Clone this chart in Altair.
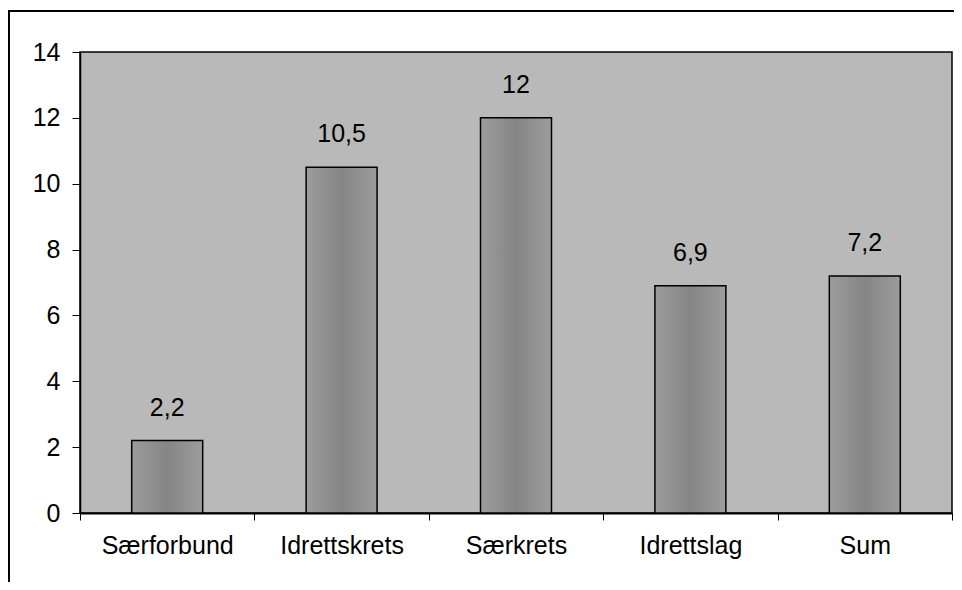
import altair as alt
import pandas as pd

categories = ["Særforbund", "Idrettskrets", "Særkrets", "Idrettslag", "Sum"]
values = [2.2, 10.5, 12, 6.9, 7.2]
value_labels = ["2,2", "10,5", "12", "6,9", "7,2"]
y_ticks = [0, 2, 4, 6, 8, 10, 12, 14]

df = pd.DataFrame({"cat": categories, "val": values, "lab": value_labels})

FONT = "Liberation Sans"
FS = 25

x_enc = alt.X(
    "cat:N",
    sort=categories,
    title=None,
    scale=alt.Scale(paddingInner=0, paddingOuter=0),
    axis=alt.Axis(
        tickBand="extent",
        labelAngle=0,
        labelFont=FONT,
        labelFontSize=FS,
        labelColor="black",
        labelPadding=13,
        tickSize=7,
        tickColor="black",
        domainColor="black",
        domainWidth=2,
        grid=False,
    ),
)
y_enc = alt.Y(
    "val:Q",
    title=None,
    scale=alt.Scale(domain=[0, 14], nice=False),
    axis=alt.Axis(
        values=y_ticks,
        labelFont=FONT,
        labelFontSize=FS,
        labelColor="black",
        labelPadding=12,
        tickSize=8,
        tickColor="black",
        domainColor="black",
        domainWidth=1.5,
        grid=False,
    ),
)

grad = alt.Gradient(
    gradient="linear",
    x1=0, y1=0, x2=1, y2=0,
    stops=[
        alt.GradientStop(offset=0, color="#9c9c9c"),
        alt.GradientStop(offset=0.5, color="#858585"),
        alt.GradientStop(offset=1, color="#9c9c9c"),
    ],
)

base = alt.Chart(df)

bars = base.mark_bar(
    width=alt.RelativeBandSize(0.407),
    stroke="black",
    strokeWidth=1.5,
    color=grad,
).encode(x=x_enc, y=y_enc)

texts = base.mark_text(
    font=FONT,
    fontSize=FS,
    color="black",
    baseline="alphabetic",
    dy=-25,
).encode(x=alt.X("cat:N", sort=categories), y="val:Q", text="lab:N")

frame_left = alt.Chart(pd.DataFrame({"a": [0]})).mark_rule(
    color="black", strokeWidth=2
).encode(x=alt.value(-71), y=alt.value(-41), y2=alt.value(600))

frame_top = alt.Chart(pd.DataFrame({"a": [0]})).mark_rule(
    color="black", strokeWidth=2
).encode(x=alt.value(-72), x2=alt.value(900), y=alt.value(-41))

chart = (
    alt.layer(bars, texts, frame_left, frame_top)
    .properties(
        width=872,
        height=461,
        autosize=alt.AutoSizeParams(type="none"),
        padding={"left": 72, "top": 44, "right": 2, "bottom": 69},
        background="white",
    )
    .configure_view(fill="#b9b9b9", stroke="black", strokeWidth=1.5)
)

chart.save("out.html", embed_options={"renderer": "svg", "actions": False})
